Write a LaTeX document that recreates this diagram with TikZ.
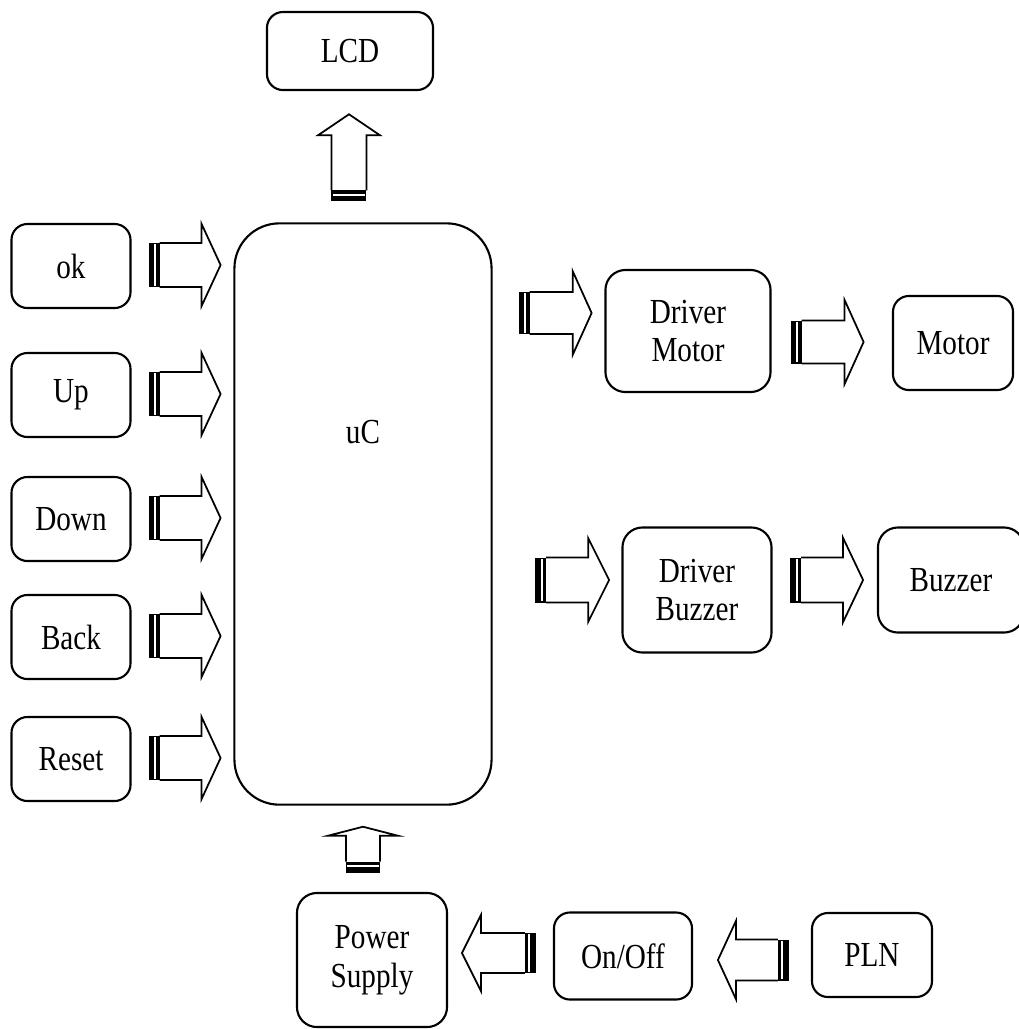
\documentclass[tikz,border=0pt]{standalone}
\usepackage{fontspec}
\setmainfont{Liberation Serif}[FakeStretch=0.83]
\usetikzlibrary{positioning,calc}
\tikzset{
  box/.style={draw,line width=.6pt,rounded corners=.16cm,align=center,inner sep=1pt,
    font=\fontsize{10}{11}\selectfont},
  lbl/.style={font=\fontsize{10}{11}\selectfont,inner sep=1pt},
  shaft/.style={draw,line width=.5pt,line join=miter,fill=white},
  % striped block arrow: length/shaft half/head half/head length
  pics/blockarrow/.style args={#1/#2/#3/#4}{code={
    \path[shaft] (11,#2)--(#1-#4,#2)--(#1-#4,#3)--(#1,0)--(#1-#4,-#3)--(#1-#4,-#2)--(11,-#2);
    \fill[black] (0,-#2) rectangle (11,#2);
    \fill[white] (5.5,-#2+1.2) rectangle (7.6,#2-1.2);
  }}
}
\begin{document}
\begin{tikzpicture}[x=.01cm,y=-.01cm]
  \useasboundingbox (0,0) rectangle (1019,1029);

  % controller and display
  \node[box,minimum width=2.57cm,minimum height=5.81cm,rounded corners=.45cm] (uc) at (363,514) {};
  \node[lbl] (uctext) at ($(uc.center)+(0,-82)$) {uC};
  \node[box,minimum width=1.66cm,minimum height=.78cm] (lcd) at (350,51) {LCD};

  % buttons
  \foreach \n/\t/\y in {ok/ok/266,up/Up/395,down/Down/519,back/Back/637,reset/Reset/759}{
    \node[box,minimum width=1.19cm,minimum height=.84cm] (\n) at (71,\y) {\t};
    \pic at ($(\n.east)+(17,-1)$) {blockarrow=72/22/41/19};
  }

  % outputs
  \node[box,minimum width=1.65cm,minimum height=1.22cm,rounded corners=.2cm] (drvm) at (688,331) {Driver\\Motor};
  \node[box,minimum width=1.2cm,minimum height=.94cm] (motor) at (953,343) {Motor};
  \node[box,minimum width=1.49cm,minimum height=1.25cm,rounded corners=.2cm] (drvb) at (697,590) {Driver\\Buzzer};
  \node[box,minimum width=1.46cm,minimum height=1.05cm,rounded corners=.2cm] (buzzer) at (951,580) {Buzzer};

  % power
  \node[box,minimum width=1.5cm,minimum height=1.34cm,rounded corners=.2cm] (power) at (372,960) {Power\\Supply};
  \node[box,minimum width=1.38cm,minimum height=.87cm] (onoff) at (623,956) {On/Off};
  \node[box,minimum width=1.2cm,minimum height=.84cm] (pln) at (872,955) {PLN};

  % block arrows
  \pic[rotate=90] at ($(uc.north -| lcd)+(-1,-21)$) {blockarrow=87/17.5/31/21};
  \pic[rotate=90] at ($(uc.south)+(0,67)$) {blockarrow=46/17/35/9};
  \pic at ($(uc.east |- drvm)+(26,-18)$) {blockarrow=73/21/42/19};
  \pic at ($(drvm.east)+(19,11)$) {blockarrow=73/21.5/42/19};
  \pic at ($(uc.east |- drvb)+(42.5,-10)$) {blockarrow=74/22.5/42/21};
  \pic at ($(drvb.east)+(17.5,-10)$) {blockarrow=73/22.5/42/20};
  \pic[rotate=180] at ($(onoff.west)+(-17,-3)$) {blockarrow=74/20/38/19};
  \pic[rotate=180] at ($(pln.west)+(-22,5)$) {blockarrow=71/20.5/39/18};
\end{tikzpicture}
\end{document}
